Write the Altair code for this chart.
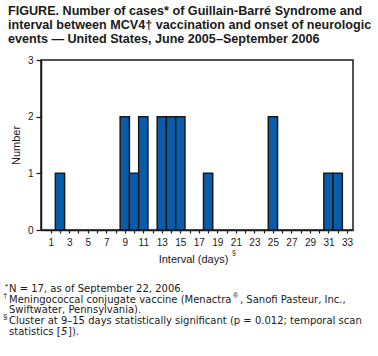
import altair as alt
import pandas as pd

days = [2, 9, 10, 11, 13, 14, 15, 18, 25, 31, 32]
counts = [1, 2, 1, 2, 2, 2, 2, 1, 2, 1, 1]

title_lines = [
    "FIGURE. Number of cases* of Guillain-Barré Syndrome and",
    "interval between MCV4\u2020 vaccination and onset of neurologic",
    "events \u2014 United States, June 2005\u2013September 2006",
]

FONT = "Liberation Sans"
FN_FONT = "DejaVu Sans"
BLUE = "#0a5caa"

df = pd.DataFrame({"day": days, "count": counts})

bars = alt.Chart(df).transform_calculate(
    x0="datum.day - 0.5", x1="datum.day + 0.5"
).mark_bar(color=BLUE, stroke="#1a1a1a", strokeWidth=1.5).encode(
    x=alt.X("x0:Q", scale=alt.Scale(domain=[-0.05, 33.65], nice=False, zero=False),
            axis=alt.Axis(values=list(range(1, 34)),
                          labelExpr="datum.value % 2 == 1 ? datum.label : ''",
                          title="Interval (days)", titleX=152, titlePadding=6,
                          titleFontSize=11, titleFontWeight="normal",
                          labelFontSize=10, tickSize=3, labelPadding=4,
                          domainColor="#1a1a1a", domainWidth=1.5,
                          tickColor="#1a1a1a", tickWidth=1.2,
                          labelColor="#1a1a1a", titleColor="#1a1a1a",
                          labelFont=FONT, titleFont=FONT, grid=False)),
    x2="x1:Q",
    y=alt.Y("count:Q", scale=alt.Scale(domain=[0, 3], nice=False),
            axis=alt.Axis(values=[0, 1, 2, 3], title="Number", titleFontSize=11,
                          titleFontWeight="normal", titlePadding=6,
                          labelFontSize=10, tickSize=5, labelPadding=3,
                          domainColor="#1a1a1a", domainWidth=1.5,
                          tickColor="#1a1a1a", tickWidth=1.2,
                          labelColor="#1a1a1a", titleColor="#1a1a1a",
                          labelFont=FONT, titleFont=FONT, grid=False)),
    y2=alt.datum(0),
)

layers = [bars]

def txt(s, x, y, size, weight="normal", font=FONT, style="normal"):
    return alt.Chart(pd.DataFrame({"t": [s]})).mark_text(
        align="left", baseline="alphabetic", font=font, fontSize=size,
        fontWeight=weight, fontStyle=style, color="#1a1a1a"
    ).encode(text="t:N", x=alt.value(x), y=alt.value(y))

# title (coordinates relative to plot origin at 41,60)
for i, line in enumerate(title_lines):
    layers.append(txt(line, 8 - 41, 15 - 60 + 14 * i, 12.6, "bold"))

# x-axis title superscript
layers.append(txt("\u00a7", 232 - 41, 255 - 60, 7))

# footnotes
fs = 10
layers.append(txt("*", 5 - 41, 289 - 60, 8))
layers.append(txt("N = 17, as of September 22, 2006.", 9 - 41, 292 - 60, fs, font=FN_FONT))
layers.append(txt("\u2020", 3 - 41, 298 - 60, 8))
layers.append(txt("Meningococcal conjugate vaccine (Menactra", 9 - 41, 303 - 60, fs, font=FN_FONT))
layers.append(txt("\u00ae", 233 - 41, 298 - 60, 7))
layers.append(txt(", Sanofi Pasteur, Inc.,", 240 - 41, 303 - 60, fs, font=FN_FONT))
layers.append(txt("Swiftwater, Pennsylvania).", 9 - 41, 313 - 60, fs, font=FN_FONT))
layers.append(txt("\u00a7", 3 - 41, 319 - 60, 8))
layers.append(txt("Cluster at 9\u201315 days statistically significant (p = 0.012; temporal scan", 9 - 41, 324 - 60, fs, font=FN_FONT))
layers.append(txt("statistics [", 9 - 41, 335 - 60, fs, font=FN_FONT))
layers.append(txt("5", 61 - 41, 335 - 60, fs, font=FN_FONT, style="italic"))
layers.append(txt("]).", 68 - 41, 335 - 60, fs, font=FN_FONT))

chart = alt.layer(*layers).properties(
    width=312, height=170,
    autosize=alt.AutoSizeParams(type="none"),
    padding={"left": 41, "top": 60, "right": 25, "bottom": 126},
    background="white",
).configure_view(stroke="#1a1a1a", strokeWidth=1.5)

chart.save("out.html", embed_options={"renderer": "svg", "actions": False})
